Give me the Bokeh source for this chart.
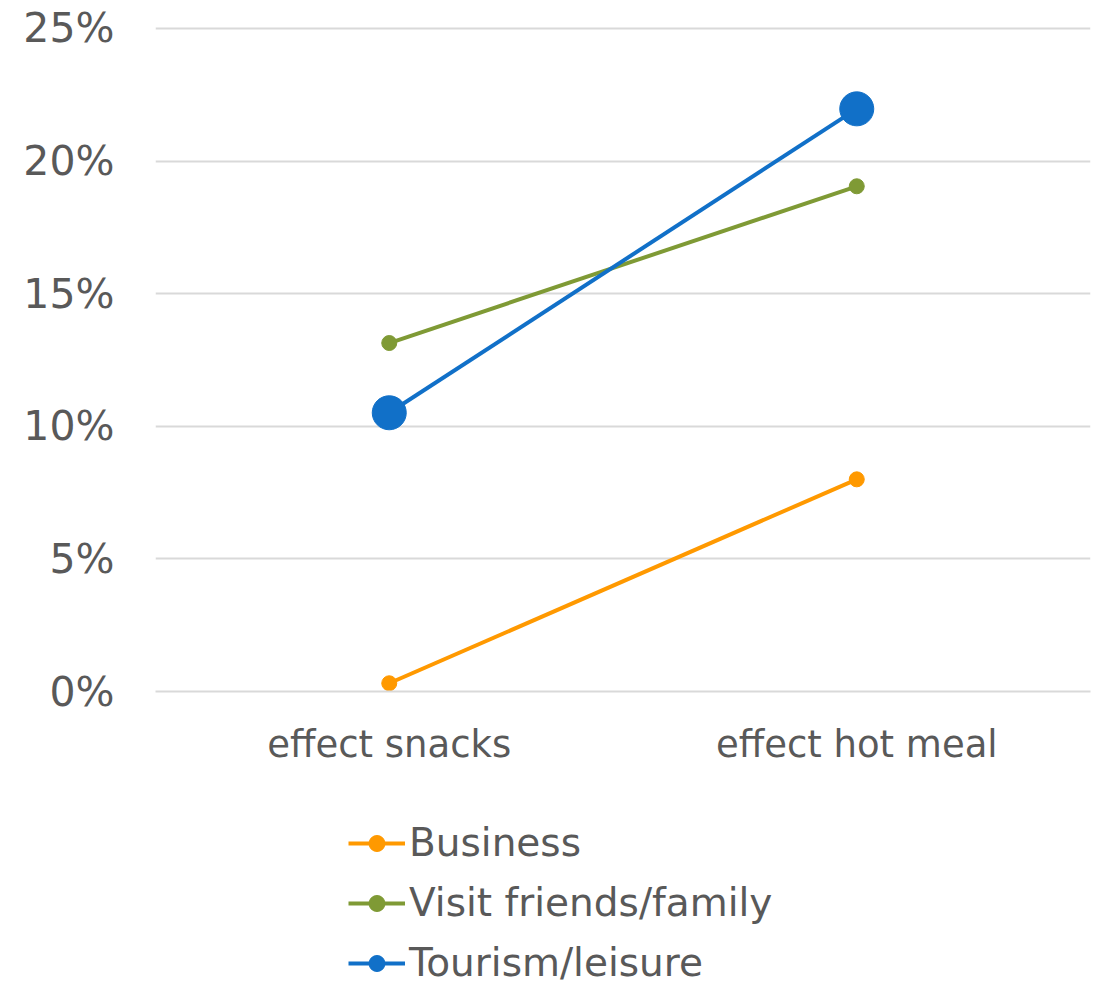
from bokeh.plotting import figure
from bokeh.models import FactorRange, Range1d, NumeralTickFormatter, Legend, LegendItem, FixedTicker
from bokeh.layouts import column
from bokeh.embed import file_html
from bokeh.resources import INLINE

categories = ["effect snacks", "effect hot meal"]
business = [0.0031, 0.0800]
visit = [0.1314, 0.1905]
tourism = [0.1051, 0.2197]
y_ticks = [0, 0.05, 0.10, 0.15, 0.20, 0.25]

FONT = "DejaVu Sans"
TXT = "#595959"

series = [("Business", business, "#ff9900", 15),
          ("Visit friends/family", visit, "#7f9a35", 15),
          ("Tourism/leisure", tourism, "#1170c8", 34)]

p = figure(width=1099, height=770, x_range=FactorRange(*categories, range_padding=0),
           y_range=Range1d(0, 0.25075), output_backend="svg", toolbar_location=None,
           min_border_left=155, min_border_right=9, min_border_top=26, min_border_bottom=79)
p.outline_line_color = None
p.xgrid.grid_line_color = None
p.ygrid.grid_line_color = "#d9d9d9"
p.ygrid.grid_line_width = 2
p.yaxis.ticker = FixedTicker(ticks=y_ticks)
p.yaxis.formatter = NumeralTickFormatter(format="0%")
for ax in (p.xaxis[0], p.yaxis[0]):
    ax.axis_line_color = None
    ax.major_tick_line_color = None
    ax.minor_tick_line_color = None
    ax.major_label_text_font = FONT
    ax.major_label_text_color = TXT
p.yaxis.major_label_text_font_size = "41px"
p.xaxis.major_label_text_font_size = "37px"
p.yaxis.major_label_standoff = 35
p.xaxis.major_label_standoff = 25
p.xaxis.axis_line_color = "#d9d9d9"
p.xaxis.axis_line_width = 2

for name, vals, col, sz in series:
    p.line(categories, vals, line_color=col, line_width=4)
    p.scatter(categories, vals, size=sz, fill_color=col, line_color=col)

# legend panel below the chart
q = figure(width=1099, height=216, x_range=FactorRange(*categories),
           y_range=Range1d(10, 11), output_backend="svg", toolbar_location=None,
           x_axis_location=None, y_axis_location=None,
           min_border_left=0, min_border_right=0, min_border_top=0, min_border_bottom=0)
q.outline_line_color = None
q.grid.grid_line_color = None
items = []
for name, vals, col, sz in series:
    l = q.line(categories, vals, line_color=col, line_width=4)
    s = q.scatter(categories, vals, size=sz, fill_color=col, line_color=col)
    items.append(LegendItem(label=name, renderers=[l, s]))
leg = Legend(items=items, orientation="vertical", location=(193, 1),
             glyph_width=57, glyph_height=40, spacing=15, label_standoff=4,
             label_text_font=FONT, label_text_color=TXT, label_text_font_size="39px",
             border_line_color=None, background_fill_alpha=0, padding=0, margin=0)
q.add_layout(leg, "center")

open("out.html", "w").write(file_html(column(p, q, spacing=0), INLINE))
